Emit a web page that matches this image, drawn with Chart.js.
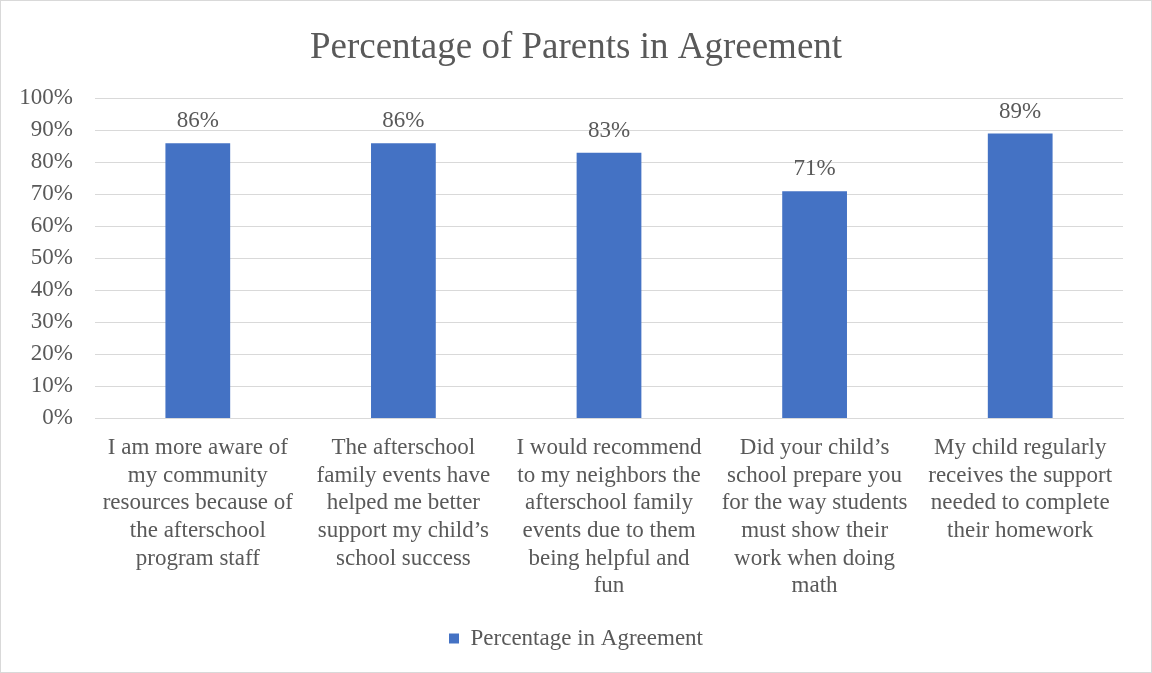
<!DOCTYPE html>
<html>
<head>
<meta charset="utf-8">
<script src="https://cdn.jsdelivr.net/npm/chart.js@4/dist/chart.umd.min.js"></script>
<style>
  html, body { margin: 0; padding: 0; background: #ffffff; }
  #wrap { position: relative; width: 1152px; height: 673px; }
</style>
</head>
<body>
<div id="wrap"><canvas id="myChart" width="1152" height="673"></canvas></div>
<script>
const questions = [
    ['I am more aware of', 'my community', 'resources because of', 'the afterschool', 'program staff'],
    ['The afterschool', 'family events have', 'helped me better', 'support my child\u2019s', 'school success'],
    ['I would recommend', 'to my neighbors the', 'afterschool family', 'events due to them', 'being helpful and', 'fun'],
    ['Did your child\u2019s', 'school prepare you', 'for the way students', 'must show their', 'work when doing', 'math'],
    ['My child regularly', 'receives the support', 'needed to complete', 'their homework']
];
const agreement = [86, 86, 83, 71, 89];
const yTicks = [0, 10, 20, 30, 40, 50, 60, 70, 80, 90, 100];

const serif = '"Liberation Serif", "Times New Roman", serif';
const grey = '#595959';

// value labels above each bar
const barLabels = {
    id: 'barLabels',
    afterDatasetsDraw(chart) {
        const ctx = chart.ctx;
        ctx.save();
        ctx.font = '23px ' + serif;
        ctx.fillStyle = grey;
        ctx.textAlign = 'center';
        ctx.textBaseline = 'middle';
        chart.getDatasetMeta(0).data.forEach((bar, i) => {
            ctx.fillText(chart.data.datasets[0].data[i] + '%', bar.x, bar.y - 22);
        });
        ctx.restore();
    }
};

// thin frame round the whole chart
const frame = {
    id: 'frame',
    afterDraw(chart) {
        const ctx = chart.ctx;
        ctx.save();
        ctx.strokeStyle = '#d9d9d9';
        ctx.lineWidth = 1;
        ctx.strokeRect(0.5, 0.5, chart.width - 1, chart.height - 1);
        ctx.restore();
    }
};

const ctx = document.getElementById('myChart').getContext('2d');
const myChart = new Chart(ctx, {
    type: 'bar',
    data: {
        labels: questions,
        datasets: [{
            label: 'Percentage in Agreement',
            data: agreement,
            backgroundColor: '#4472C4',
            borderWidth: 0,
            barPercentage: 0.315,
            categoryPercentage: 1
        }]
    },
    options: {
        responsive: false,
        animation: false,
        layout: { padding: { left: 0, right: 0, top: 0, bottom: 13 } },
        scales: {
            x: {
                afterFit: axis => { axis.height += 3; },
                grid: { display: false },
                border: { display: true, color: '#d9d9d9', width: 1 },
                ticks: {
                    color: grey,
                    font: { family: serif, size: 23, lineHeight: 1.2 },
                    padding: 8,
                    maxRotation: 0,
                    autoSkip: false
                }
            },
            y: {
                min: 0,
                max: 100,
                afterBuildTicks: axis => { axis.ticks = yTicks.map(v => ({ value: v })); },
                afterFit: axis => { axis.width = 95; },
                grid: { color: '#d9d9d9', lineWidth: 1, drawTicks: false },
                border: { display: false },
                ticks: {
                    color: grey,
                    font: { family: serif, size: 23 },
                    padding: 22,
                    callback: v => v + '%'
                }
            },
            // empty right-hand margin
            gap: {
                position: 'right',
                display: true,
                grid: { display: false, drawTicks: false },
                border: { display: false },
                ticks: { display: false },
                afterFit: axis => { axis.width = 29; }
            }
        },
        plugins: {
            title: {
                display: true,
                text: 'Percentage of Parents in Agreement',
                color: grey,
                font: { family: serif, size: 37, weight: 'normal', lineHeight: 1.2 },
                padding: { top: 26, bottom: 28 }
            },
            legend: {
                position: 'bottom',
                labels: {
                    color: grey,
                    font: { family: serif, size: 23 },
                    boxWidth: 10,
                    boxHeight: 10,
                    padding: 16
                }
            },
            tooltip: { enabled: false }
        }
    },
    plugins: [barLabels, frame]
});
</script>
</body>
</html>
